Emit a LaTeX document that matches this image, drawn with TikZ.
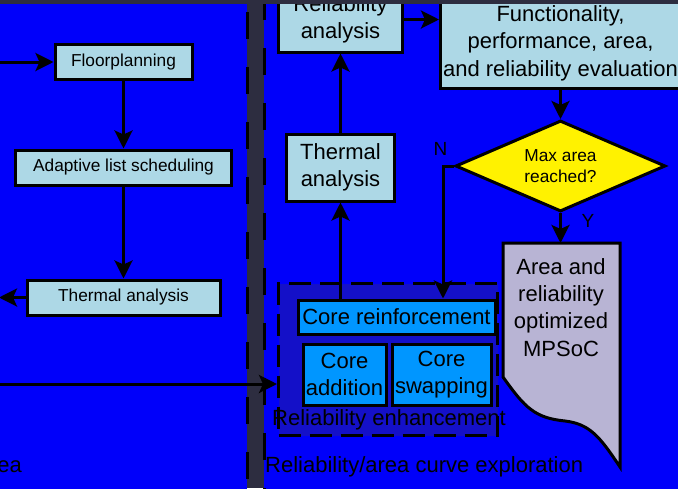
\documentclass[tikz,border=0pt]{standalone}
\usepackage{fontspec}
\setmainfont{Liberation Sans}
\usetikzlibrary{shapes.geometric, arrows.meta, positioning, calc}
\definecolor{bgdark}{RGB}{45,45,64}
\definecolor{panelblue}{RGB}{0,0,250}
\definecolor{boxblue}{RGB}{173,216,230}
\definecolor{coreblue}{RGB}{0,150,255}
\definecolor{enhblue}{RGB}{20,16,200}
\definecolor{doccolor}{RGB}{184,180,212}
\newcommand{\flowsmall}{\fontsize{17.3}{21.5}\selectfont}
\newcommand{\flowbig}{\fontsize{22}{27.4}\selectfont}
\newcommand{\flowyn}{\fontsize{19}{22}\selectfont}

\begin{document}
\begin{tikzpicture}[
    x=1pt, y=-1pt,
    block/.style={rectangle, draw, line width=3pt, fill=boxblue, inner sep=0pt, align=center},
    leftblock/.style={block, font=\flowsmall, minimum height=35pt},
    rightblock/.style={block, font=\flowbig},
    coreblock/.style={block, fill=coreblue, font=\flowbig},
    decision/.style={diamond, draw, line width=3pt, fill=yellow, inner sep=0pt, aspect=2.3, align=center, font=\flowsmall},
    arrow/.style={-{Stealth[length=18pt,width=18pt,inset=4pt]}, line width=3pt},
    paneledge/.style={line width=3pt, dash pattern=on 27pt off 28pt},
    paneltext/.style={font=\flowbig, inner sep=0pt}
]
\useasboundingbox (0,0) rectangle (678,488);
\clip (0,0) rectangle (678,488);
\fill[bgdark] (0,0) rectangle (678,488);

% panels
\fill[panelblue] (-20,-20) rectangle (247,520);
\fill[panelblue] (264,-20) rectangle (700,520);
\draw[paneledge, dash phase=23pt] (247,-20) -- (247,520);
\draw[paneledge, dash phase=42pt] (264,-20) -- (264,520);

% reliability enhancement group
\node[draw, line width=3pt, dash pattern=on 22pt off 9pt, fill=enhblue, minimum width=219pt, minimum height=152pt] (enh) at (388,359.5) {};

% left panel
\node[leftblock, minimum width=137pt] (floor) at (123.5,62) {Floorplanning};
\node[leftblock, minimum width=216pt] (sched) at (123.5,167.5) {Adaptive list scheduling};
\node[leftblock, minimum width=193pt] (thermL) at (123.5,297.5) {Thermal analysis};

% right panel
\node[rightblock, minimum width=124pt, minimum height=65pt] (relA) at (340.5,19.5) {Reliability\\analysis};
\node[rightblock, minimum width=108pt, minimum height=67pt] (thermR) at (340.5,167.5) {Thermal\\analysis};
\node[rightblock, minimum width=240pt, minimum height=90pt] (func) at (560.5,43) {Functionality,\\performance, area,\\and reliability evaluation};
\node[decision, minimum width=210pt, minimum height=91pt] (maxarea) at (560.5,166) {Max area\\reached?};
\node[coreblock, minimum width=197pt, minimum height=34pt] (coreR) at (396.5,317) {Core reinforcement};
\node[coreblock, minimum width=83pt, minimum height=61pt] (coreA) at (344.5,374.5) {Core\\addition};
\node[coreblock, minimum width=99pt, minimum height=61pt] (coreS) at (441.5,374.5) {Core\\swapping};

% output document
\draw[line width=3pt, fill=doccolor] (503,243) -- (620,243) -- (620,467)
    .. controls (600,437) and (590,424) .. (565,421)
    .. controls (535,418) and (525,408) .. (503,377) -- cycle;
\node[font=\flowbig, align=center, inner sep=0pt, anchor=north] (mpsoc) at (561,258) {Area and\\reliability\\optimized\\MPSoC};

\coordinate (inTop) at (0,62);
\coordinate (outL) at (-1,297.5);
\coordinate (inBot) at (0,384);
\coordinate (docTop) at (560.5,243);
\coordinate (nCorner) at (443,166);

\draw[arrow] (inTop) -- (floor);
\draw[arrow] (floor) -- (sched);
\draw[arrow] (sched) -- (thermL);
\draw[arrow] (thermL) -- (outL);
\draw[arrow] (inBot) -- (inBot -| enh.west);
\draw[arrow] (thermR |- coreR.north) -- (thermR);
\draw[arrow] (thermR) -- (relA);
\draw[arrow] (relA.east) -- (relA.east -| func.west);
\draw[arrow] (func) -- (maxarea);
\draw[arrow] (maxarea) -- (docTop);
\draw[arrow] (maxarea.west) -- (nCorner) -- (nCorner |- coreR.north);

\node[font=\flowyn, anchor=base, inner sep=0pt] (noLbl) at (440.5,155) {N};
\node[font=\flowyn, anchor=base, inner sep=0pt] (yesLbl) at (588,227) {Y};

\node[paneltext, anchor=base] (enhLbl) at (389,425) {Reliability enhancement};
\node[paneltext, anchor=base west] (rightLbl) at (265,472) {Reliability/area curve exploration};
\node[paneltext, anchor=base east] (leftLbl) at (22,472) {ea};

\fill[bgdark] (0,0) rectangle (678,4);
\end{tikzpicture}
\end{document}
